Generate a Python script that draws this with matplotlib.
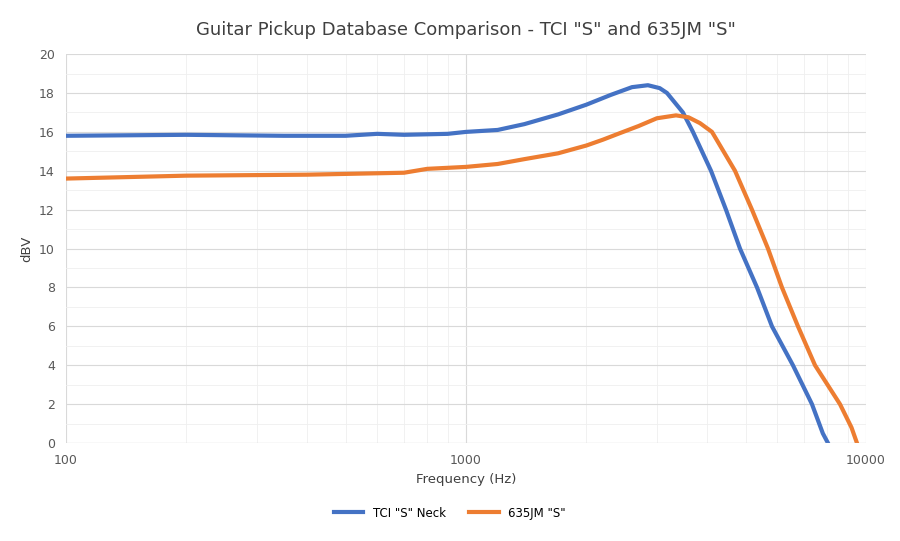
import matplotlib
matplotlib.use("Agg")
import matplotlib.pyplot as plt
from matplotlib.ticker import FixedLocator, LogLocator, NullFormatter, FuncFormatter

blue_f = [100, 200, 350, 500, 600, 700, 900, 1000, 1200, 1400, 1700, 2000, 2300, 2600, 2850, 3050, 3181, 3486, 3693, 4098, 4467, 4842, 5341, 5821, 6568, 7328, 7800, 8035]
blue_v = [15.8, 15.85, 15.8, 15.8, 15.9, 15.85, 15.9, 16.0, 16.1, 16.4, 16.9, 17.4, 17.9, 18.3, 18.4, 18.25, 18.0, 17.0, 16.0, 14.0, 12.0, 10.0, 8.0, 6.0, 4.0, 2.0, 0.5, 0.0]
orange_f = [100, 200, 400, 700, 800, 1000, 1200, 1400, 1700, 2000, 2200, 2400, 2700, 3000, 3350, 3600, 3846, 4121, 4705, 5188, 5689, 6166, 6761, 7458, 8610, 9200, 9495]
orange_v = [13.6, 13.75, 13.8, 13.9, 14.1, 14.2, 14.35, 14.6, 14.9, 15.3, 15.6, 15.9, 16.3, 16.7, 16.85, 16.75, 16.45, 16.0, 14.0, 12.0, 10.0, 8.0, 6.0, 4.0, 2.0, 0.8, 0.0]

fig = plt.figure(figsize=(9, 5.41), dpi=100)
ax = fig.add_axes([0.0733, 0.181, 0.8889, 0.719])
ax.plot(blue_f, blue_v, color="#4472C4", lw=3, label='TCI "S" Neck')
ax.plot(orange_f, orange_v, color="#ED7D31", lw=3, label='635JM "S"')
ax.set_xscale("log")
ax.set_xlim(100, 10000)
ax.set_ylim(0, 20)
ax.set_yticks(range(0, 21, 2))
ax.yaxis.set_minor_locator(FixedLocator(range(1, 20, 2)))
ax.xaxis.set_minor_locator(LogLocator(subs=range(2, 10)))
ax.xaxis.set_minor_formatter(NullFormatter())
ax.xaxis.set_major_formatter(FuncFormatter(lambda v, p: f"{int(v)}"))
ax.grid(which="major", color="#D9D9D9", lw=0.8)
ax.grid(which="minor", color="#EFEFEF", lw=0.6)
for s in ax.spines.values():
    s.set_visible(False)
ax.axhline(0, color="#BFBFBF", lw=0.8)
ax.tick_params(which="both", length=0, labelsize=9, colors="#595959")
ax.tick_params(axis="x", pad=8)
ax.tick_params(axis="y", pad=8)
ax.set_xlabel("Frequency (Hz)", fontsize=9.5, color="#404040")
ax.set_ylabel("dBV", fontsize=9.5, color="#404040")
ax.set_title('Guitar Pickup Database Comparison - TCI "S" and 635JM "S"', fontsize=13, color="#404040", pad=14)
fig.legend(loc="lower center", ncol=2, frameon=False, fontsize=8.5, bbox_to_anchor=(0.5, 0.02), handlelength=2.5)
fig.savefig("out.png", dpi=100)
